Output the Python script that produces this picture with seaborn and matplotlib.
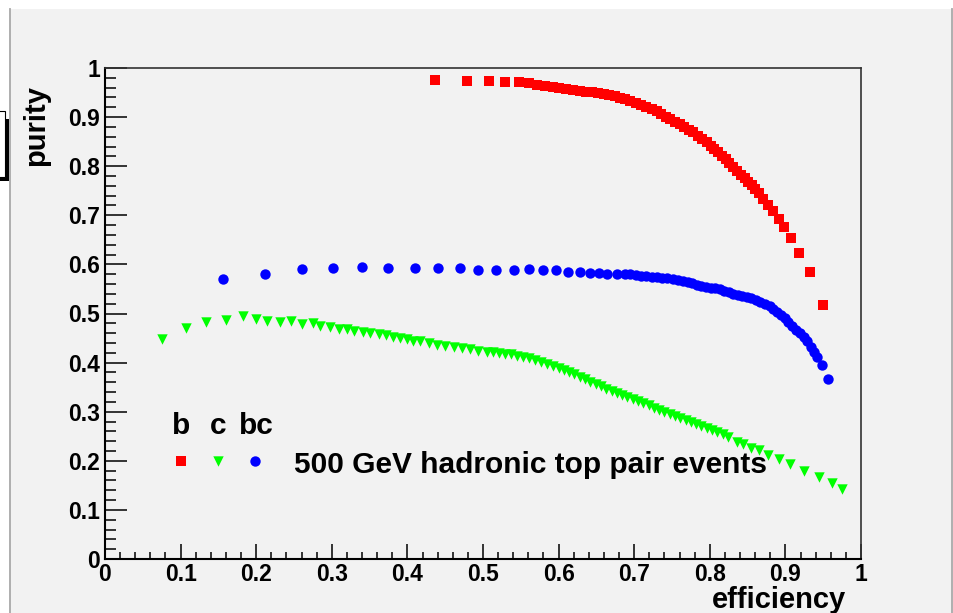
import pandas as pd
import matplotlib
matplotlib.use('Agg')
import matplotlib.pyplot as plt
import seaborn as sns
from matplotlib.patches import Rectangle
from matplotlib.lines import Line2D
from matplotlib.ticker import MultipleLocator

# b tagging (red squares)
b_eff = [0.437, 0.479, 0.508, 0.529, 0.547, 0.561, 0.572, 0.582, 0.592, 0.601,
         0.610, 0.619, 0.628, 0.636, 0.644, 0.652, 0.660, 0.667, 0.674, 0.681,
         0.688, 0.695, 0.702, 0.709, 0.716, 0.723, 0.730, 0.736, 0.742, 0.748,
         0.754, 0.760, 0.766, 0.772, 0.778, 0.784, 0.790, 0.796, 0.801, 0.806,
         0.811, 0.816, 0.821, 0.826, 0.831, 0.836, 0.841, 0.846, 0.851, 0.856,
         0.860, 0.865, 0.871, 0.877, 0.883, 0.891, 0.898, 0.907, 0.918, 0.933, 0.950]
b_pur = [0.976, 0.974, 0.973, 0.972, 0.971, 0.969, 0.966, 0.964, 0.961, 0.959,
         0.958, 0.956, 0.954, 0.952, 0.951, 0.949, 0.947, 0.945, 0.942, 0.939,
         0.936, 0.932, 0.928, 0.924, 0.920, 0.916, 0.912, 0.906, 0.900, 0.896,
         0.890, 0.885, 0.880, 0.874, 0.869, 0.862, 0.856, 0.849, 0.842, 0.835,
         0.828, 0.821, 0.814, 0.806, 0.799, 0.790, 0.782, 0.776, 0.768, 0.761,
         0.754, 0.745, 0.734, 0.721, 0.708, 0.693, 0.676, 0.654, 0.624, 0.585, 0.517]

# c tagging (green triangles)
c_eff = [0.076, 0.107, 0.134, 0.160, 0.183, 0.200, 0.214, 0.231, 0.246, 0.261,
         0.275, 0.285, 0.297, 0.309, 0.320, 0.330, 0.341, 0.351, 0.362, 0.372,
         0.381, 0.390, 0.399, 0.408, 0.417, 0.428, 0.439, 0.450, 0.461, 0.472,
         0.483, 0.494, 0.505, 0.513, 0.521, 0.529, 0.537, 0.545, 0.553, 0.561,
         0.569, 0.577, 0.585, 0.593, 0.600, 0.607, 0.614, 0.621, 0.628, 0.635,
         0.642, 0.649, 0.656, 0.663, 0.670, 0.677, 0.684, 0.691, 0.698, 0.705,
         0.712, 0.719, 0.726, 0.733, 0.740, 0.747, 0.754, 0.761, 0.768, 0.775,
         0.782, 0.789, 0.796, 0.803, 0.810, 0.817, 0.824, 0.836, 0.844, 0.854,
         0.865, 0.877, 0.892, 0.906, 0.924, 0.944, 0.962, 0.975]
c_pur = [0.449, 0.470, 0.483, 0.487, 0.494, 0.488, 0.485, 0.483, 0.484, 0.479,
         0.480, 0.475, 0.472, 0.469, 0.469, 0.464, 0.462, 0.460, 0.459, 0.456,
         0.452, 0.450, 0.448, 0.445, 0.443, 0.439, 0.436, 0.433, 0.432, 0.430,
         0.428, 0.424, 0.422, 0.421, 0.420, 0.418, 0.417, 0.414, 0.412, 0.409,
         0.406, 0.402, 0.398, 0.394, 0.389, 0.385, 0.380, 0.376, 0.371, 0.366,
         0.361, 0.357, 0.352, 0.347, 0.342, 0.338, 0.334, 0.329, 0.325, 0.321,
         0.317, 0.313, 0.308, 0.304, 0.300, 0.296, 0.292, 0.287, 0.283, 0.279,
         0.275, 0.271, 0.267, 0.263, 0.259, 0.254, 0.248, 0.238, 0.234, 0.227,
         0.221, 0.212, 0.204, 0.193, 0.180, 0.168, 0.155, 0.142]

# bc tagging (blue circles)
bc_eff = [0.156, 0.212, 0.260, 0.302, 0.340, 0.375, 0.410, 0.440, 0.469, 0.493,
          0.517, 0.541, 0.561, 0.579, 0.596, 0.612, 0.628, 0.641, 0.654, 0.664,
          0.677, 0.688, 0.695, 0.702, 0.709, 0.716, 0.723, 0.730, 0.737, 0.744,
          0.751, 0.758, 0.765, 0.771, 0.777, 0.783, 0.789, 0.795, 0.801, 0.807,
          0.813, 0.819, 0.825, 0.831, 0.837, 0.843, 0.849, 0.855, 0.861, 0.867,
          0.873, 0.879, 0.884, 0.889, 0.894, 0.899, 0.904, 0.909, 0.914, 0.919,
          0.924, 0.929, 0.934, 0.938, 0.942, 0.949, 0.957]
bc_pur = [0.570, 0.580, 0.591, 0.593, 0.595, 0.592, 0.593, 0.593, 0.592, 0.589,
          0.589, 0.589, 0.590, 0.589, 0.588, 0.585, 0.585, 0.582, 0.582, 0.581,
          0.581, 0.581, 0.580, 0.578, 0.577, 0.576, 0.575, 0.574, 0.573, 0.572,
          0.571, 0.569, 0.567, 0.565, 0.562, 0.559, 0.556, 0.554, 0.552, 0.551,
          0.549, 0.546, 0.543, 0.540, 0.538, 0.536, 0.534, 0.531, 0.528, 0.524,
          0.520, 0.515, 0.509, 0.503, 0.497, 0.490, 0.482, 0.475, 0.467, 0.460,
          0.452, 0.443, 0.432, 0.422, 0.412, 0.396, 0.366]

tick_values = [0, 0.1, 0.2, 0.3, 0.4, 0.5, 0.6, 0.7, 0.8, 0.9, 1]
tick_labels = ['0', '0.1', '0.2', '0.3', '0.4', '0.5', '0.6', '0.7', '0.8', '0.9', '1']
series_names = ['b', 'c', 'bc']
legend_text = '500 GeV hadronic top pair events'

plt.rcParams['font.family'] = ['Liberation Sans', 'DejaVu Sans']
plt.rcParams['font.weight'] = 'bold'

W, H = 954, 613
def fx(px):
    return px / W
def fy(py):
    return 1 - py / H

fig = plt.figure(figsize=(9.54, 6.13), dpi=100, facecolor='white')

# ROOT canvas look (kept behind the axes)
fig.patches.append(Rectangle((fx(11), 0), fx(940), fy(9), transform=fig.transFigure,
                             facecolor='#f2f2f2', edgecolor='none', zorder=-10))
for xp in (10, 952):
    fig.lines.append(Line2D([fx(xp), fx(xp)], [0, fy(9)], transform=fig.transFigure,
                            color='#a8a8a8', lw=1.3, zorder=-5))
fig.patches.append(Rectangle((fx(-5), fy(181)), fx(14), (181 - 119) / H, transform=fig.transFigure,
                             facecolor='black', edgecolor='none', zorder=-5))
fig.patches.append(Rectangle((fx(-5), fy(177)), fx(10), (177 - 111) / H, transform=fig.transFigure,
                             facecolor='white', edgecolor='black', lw=0.8, zorder=-4))

ax = fig.add_axes([fx(105), fy(559), fx(756), 491 / H])
ax.set_facecolor('#f2f2f2')

df_b = pd.DataFrame({'efficiency': b_eff, 'purity': b_pur})
df_c = pd.DataFrame({'efficiency': c_eff, 'purity': c_pur})
df_bc = pd.DataFrame({'efficiency': bc_eff, 'purity': bc_pur})

sns.scatterplot(data=df_b, x='efficiency', y='purity', marker='s', color='#ff0000',
                s=58, linewidth=0, ax=ax, legend=False, zorder=3)
sns.scatterplot(data=df_c, x='efficiency', y='purity', marker='v', color='#00ff00',
                s=56, linewidth=0, ax=ax, legend=False, zorder=3)
sns.scatterplot(data=df_bc, x='efficiency', y='purity', marker='o', color='#0000ff',
                s=56, linewidth=0, ax=ax, legend=False, zorder=3)

ax.set_xlim(0, 1)
ax.set_ylim(0, 1)
ax.set_xticks(tick_values, tick_labels)
ax.set_yticks(tick_values, tick_labels)
ax.xaxis.set_minor_locator(MultipleLocator(0.02))
ax.yaxis.set_minor_locator(MultipleLocator(0.02))
ax.tick_params(axis='both', which='both', direction='in', color='black', width=1.1,
               top=False, right=False, labelsize=16.5)
ax.tick_params(axis='y', which='major', length=16, pad=3.5)
ax.tick_params(axis='y', which='minor', length=8)
ax.tick_params(axis='x', which='major', length=10.5, pad=3)
ax.tick_params(axis='x', which='minor', length=5)
for lab in ax.get_xticklabels() + ax.get_yticklabels():
    lab.set_fontweight('bold')

for side in ('left', 'bottom'):
    ax.spines[side].set_linewidth(1.5)
    ax.spines[side].set_color('black')
for side in ('top', 'right'):
    ax.spines[side].set_linewidth(1.2)
    ax.spines[side].set_color('#333333')

ax.set_xlabel('efficiency', fontsize=21, fontweight='bold', ha='right', va='top')
ax.xaxis.set_label_coords((846 - 105) / 756, (559 - 586) / 491)
ax.set_ylabel('purity', fontsize=21, fontweight='bold', ha='right', va='bottom')
ax.yaxis.set_label_coords((50 - 105) / 756, (559 - 85) / 491)

# legend: markers in a row, headers above, text to the right
handles = ax.collections[:3]
leg = ax.legend(handles, ['', '', ''], ncol=3, frameon=False, fontsize=21,
                handlelength=0.5, handletextpad=0, columnspacing=0.78,
                borderpad=0, borderaxespad=0, scatterpoints=1,
                loc='center left', bbox_to_anchor=((173.5 - 105) / 756, (559 - 461) / 491))
for name, xp in zip(series_names, [181, 218, 256]):
    ax.text((xp - 105) / 756, (559 - 434) / 491, name, transform=ax.transAxes,
            ha='center', va='baseline', fontsize=21.5, fontweight='bold')
ax.text((294 - 105) / 756, (559 - 473) / 491, legend_text, transform=ax.transAxes,
        ha='left', va='baseline', fontsize=21.5, fontweight='bold')

fig.savefig('out.png', dpi=100, facecolor=fig.get_facecolor())
